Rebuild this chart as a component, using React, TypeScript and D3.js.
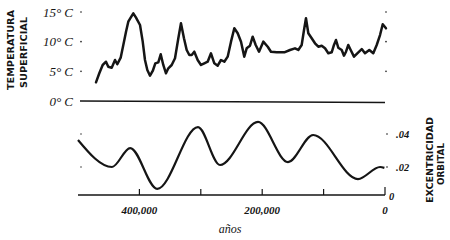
import React from "react";
import * as d3 from "d3";

// Temperature record: [thousand years ago, °C]
const tempYears = [470.7,465.3,459.8,454.4,450.7,445.1,439.7,436.0,430.5,426.2,421.8,418.1,414.2,409.9,405.5,399.0,394.6,390.9,387.1,382.7,378.3,374.1,369.2,365.3,361.1,356.7,352.9,347.4,342.0,336.6,332.3,327.4,323.0,318.7,314.8,310.6,305.1,299.7,294.3,288.8,283.4,278.0,272.5,267.1,261.7,256.2,250.8,245.4,239.9,234.5,229.2,225.3,219.9,215.5,210.6,205.2,198.2,191.0,185.7,176.4,164.0,154.7,146.6,141.2,135.7,131.9,128.7,124.9,119.4,114.0,108.6,103.1,97.7,92.3,86.8,83.1,79.8,76.1,70.5,66.8,63.5,59.8,55.9,50.5,45.1,37.9,32.6,25.6,19.1,13.5,8.1,3.7,-1.6];
const tempValues = [3.15,4.67,6.07,6.62,5.78,5.61,6.91,6.19,7.30,9.44,11.68,13.37,14.04,14.78,14.04,12.81,10.0,6.91,5.22,4.26,5.06,6.35,6.52,7.87,6.07,4.67,5.51,6.07,7.20,10.57,13.10,10.57,8.60,7.75,7.75,8.31,6.91,6.07,6.35,6.62,8.04,6.35,5.95,6.91,6.62,7.47,10.0,12.25,11.41,10.0,7.47,8.88,9.32,10.84,9.44,8.31,10.0,9.15,8.31,8.21,8.21,8.60,8.88,8.60,9.44,11.97,13.94,11.41,10.57,9.73,9.15,9.32,8.88,8.04,8.21,9.44,10.28,8.98,8.60,7.64,8.31,9.44,8.60,7.47,8.04,8.76,8.04,8.60,8.04,9.44,11.12,12.93,12.25];

// Orbital eccentricity: [thousand years ago, eccentricity]
const eccYears = [500, 444.7, 415, 371, 304.6, 268.7, 206.8, 158, 117, 44, 8, 1];
const eccValues = [0.0364, 0.020, 0.0315, 0.0067, 0.0442, 0.0212, 0.0473, 0.023, 0.0394, 0.0127, 0.0200, 0.0195];

const tempTicks = [15, 10, 5];
const tempTickLabels = ["15° C", "10° C", "5° C"];
const eccTicks = [0.04, 0.02];
const eccTickLabels = [".04", ".02"];
const yearTicks = [400, 300, 200, 100, 0];
const yearLabels = [
  { v: 400, t: "400,000" },
  { v: 200, t: "200,000" },
  { v: 0, t: "0" },
];

const ink = "#151515";
const serif = "'Liberation Serif', 'DejaVu Serif', serif";
const sans = "'DejaVu Sans', 'Liberation Sans', sans-serif";

export default function App() {
  const x = d3.scaleLinear().domain([500, 0]).range([78, 385]);
  const yT = d3.scaleLinear().domain([0, 15]).range([101, 12]);
  const yE = d3.scaleLinear().domain([0, 0.04]).range([200, 134]);

  const tempLine = d3
    .line<number>()
    .x((_, i) => x(tempYears[i]))
    .y((d) => yT(d))
    .curve(d3.curveLinear)(tempValues) as string;

  const eccLine = d3
    .line<number>()
    .x((_, i) => x(eccYears[i]))
    .y((d) => yE(d))
    .curve(d3.curveMonotoneX)(eccValues) as string;

  const axisY = 195;

  return (
    <svg width={450} height={240} style={{ position: "absolute", left: 0, top: 0, background: "#fff" }}>
      <rect width={450} height={240} fill="#fff" />
      {tempTicks.map((t, i) => (
        <g key={t}>
          <text x={73} y={yT(t) + 4.5} textAnchor="end" fontFamily={serif} fontStyle="italic" fontSize={13} fill={ink}>
            {tempTickLabels[i]}
          </text>
          <circle cx={81} cy={yT(t)} r={0.8} fill={ink} />
          <circle cx={386} cy={yT(t)} r={0.8} fill={ink} />
        </g>
      ))}
      <text x={73} y={yT(0) + 4.5} textAnchor="end" fontFamily={serif} fontStyle="italic" fontSize={13} fill={ink}>
        0° C
      </text>
      <line x1={80} x2={385} y1={yT(0)} y2={yT(0) + 1.5} stroke={ink} strokeWidth={1.6} />

      <path d={tempLine} fill="none" stroke={ink} strokeWidth={2.5} strokeLinejoin="round" strokeLinecap="round" />

      <path d={eccLine} fill="none" stroke={ink} strokeWidth={2.2} />
      {eccTicks.map((t, i) => (
        <g key={t}>
          <circle cx={81} cy={yE(t)} r={0.7} fill={ink} />
          <circle cx={387} cy={yE(t)} r={0.8} fill={ink} />
          <text x={396} y={yE(t) + 3.5} fontFamily={serif} fontStyle="italic" fontWeight="bold" fontSize={10.5} fill={ink}>
            {eccTickLabels[i]}
          </text>
        </g>
      ))}
      <text x={389} y={200} fontFamily={serif} fontStyle="italic" fontWeight="bold" fontSize={10.5} fill={ink}>
        0
      </text>

      <line x1={78} x2={385} y1={axisY} y2={axisY} stroke={ink} strokeWidth={1.4} />
      {yearTicks.map((t) => (
        <line key={t} x1={x(t)} x2={x(t)} y1={axisY} y2={t === 0 ? axisY - 8 : axisY - 6} stroke={ink} strokeWidth={1.2} />
      ))}
      {yearLabels.map((l) => (
        <text key={l.v} x={x(l.v)} y={214} textAnchor="middle" fontFamily={serif} fontStyle="italic" fontWeight="bold" fontSize={11} fill={ink}>
          {l.t}
        </text>
      ))}
      <text x={230} y={233} textAnchor="middle" fontFamily={serif} fontStyle="italic" fontSize={12} fill={ink}>
        años
      </text>

      <text transform="translate(11,50) rotate(-90)" textAnchor="middle" dominantBaseline="central" fontFamily={sans} fontWeight="bold" fontSize={9} textLength={80} lengthAdjust="spacingAndGlyphs" fill={ink}>
        TEMPERATURA
      </text>
      <text transform="translate(23.5,52.5) rotate(-90)" textAnchor="middle" dominantBaseline="central" fontFamily={sans} fontWeight="bold" fontSize={9} textLength={71} lengthAdjust="spacingAndGlyphs" fill={ink}>
        SUPERFICIAL
      </text>
      <text transform="translate(430,160) rotate(-90)" textAnchor="middle" dominantBaseline="central" fontFamily={sans} fontWeight="bold" fontSize={9} textLength={86} lengthAdjust="spacingAndGlyphs" fill={ink}>
        EXCENTRICIDAD
      </text>
      <text transform="translate(441,164) rotate(-90)" textAnchor="middle" dominantBaseline="central" fontFamily={sans} fontWeight="bold" fontSize={9} textLength={42} lengthAdjust="spacingAndGlyphs" fill={ink}>
        ORBITAL
      </text>
    </svg>
  );
}
